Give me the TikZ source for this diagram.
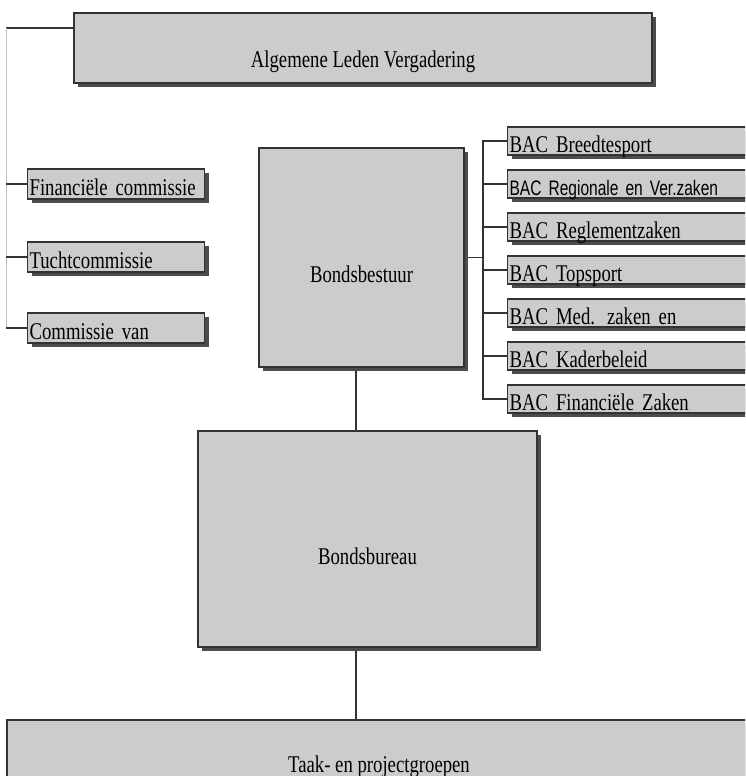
\documentclass[tikz,border=0pt]{standalone}
\usepackage{fontspec}
\setmainfont[FakeStretch=0.78]{Liberation Serif}
\newfontfamily\bacsans[FakeStretch=0.74]{Liberation Sans}
\usetikzlibrary{shadows,backgrounds}

\tikzset{
  orgbox/.style={draw=black!80, line width=1.2pt, fill=black!20, inner sep=2pt,
    font=\fontsize{24}{26}\selectfont,
    general shadow={fill=black!70, shadow xshift=4pt, shadow yshift=-4pt}},
  smallbox/.style={orgbox, anchor=west, align=left, text height=22pt, text depth=0pt},
  link/.style={black!80, line width=1.2pt},
}

\begin{document}
\begin{tikzpicture}[x=1pt, y=-1pt]
\path[use as bounding box, clip] (0,0) rectangle (745,776);

% main line
\node[orgbox, minimum width=578pt, minimum height=70pt, text height=38pt, text depth=0pt] (alv) at (363,48) {Algemene Leden Vergadering};
\node[orgbox, minimum width=205pt, minimum height=219pt, text height=50pt, text depth=0pt] (bestuur) at (361.5,257.5) {Bondsbestuur};
\node[orgbox, minimum width=339pt, minimum height=216pt, text height=50pt, text depth=0pt] (bureau) at (367.5,539) {Bondsbureau};
\node[orgbox, minimum width=744pt, minimum height=100pt, text height=4pt, text depth=0pt] (taak) at (379,770) {Taak- en projectgroepen};

% commissies
\node[smallbox, text width=173pt, minimum height=30pt] (fin) at (27,184) {Financiële commissie};
\node[smallbox, text width=173pt, minimum height=30pt] (tucht) at (27,257) {Tuchtcommissie};
\node[smallbox, text width=173pt, minimum height=30pt] (cvan) at (27,328) {Commissie van};

% BAC's
\node[smallbox, text width=260pt, minimum height=28pt] (bac1) at (507,141) {BAC Breedtesport};
\node[smallbox, text width=260pt, minimum height=28pt, font=\bacsans\fontsize{21}{23}\selectfont] (bac2) at (507,184) {BAC Regionale en Ver.zaken};
\node[smallbox, text width=260pt, minimum height=28pt] (bac3) at (507,227) {BAC Reglementzaken};
\node[smallbox, text width=260pt, minimum height=28pt] (bac4) at (507,270) {BAC Topsport};
\node[smallbox, text width=260pt, minimum height=28pt] (bac5) at (507,313) {BAC Med. zaken en};
\node[smallbox, text width=260pt, minimum height=28pt] (bac6) at (507,356) {BAC Kaderbeleid};
\node[smallbox, text width=260pt, minimum height=28pt] (bac7) at (507,399) {BAC Financiële Zaken};

\coordinate (lspine) at (6,28);
\coordinate (rspine) at (483,257.5);
\coordinate (trunk) at (356,0);

\begin{scope}[on background layer]
\draw[link] (lspine) -- (lspine -| alv.west);
\draw[black!25, line width=1pt] (lspine) -- (lspine |- cvan.west);
\foreach \n in {fin,tucht,cvan}
{
    \draw[link] (\n.west) -- (\n.west -| lspine);
}
\draw[link] (bestuur.east) -- (rspine);
\foreach \i in {1,...,7}
{
    \draw[link] (bac\i.west) -| (rspine);
}
\draw[link] (bestuur.south -| trunk) -- (bureau.north -| trunk);
\draw[link] (bureau.south -| trunk) -- (taak.north -| trunk);
\end{scope}
\end{tikzpicture}
\end{document}
